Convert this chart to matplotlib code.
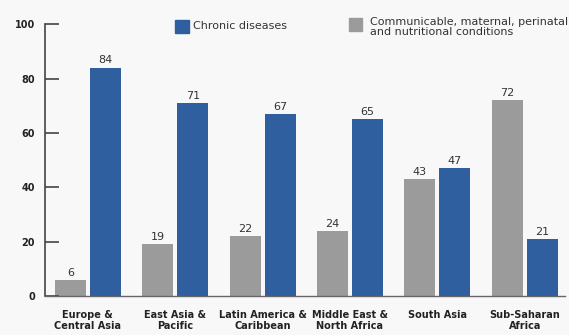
import matplotlib.pyplot as plt
import matplotlib.patches as mpatches
import numpy as np

categories = ['Europe &\nCentral Asia', 'East Asia &\nPacific', 'Latin America &\nCaribbean',
              'Middle East &\nNorth Africa', 'South Asia', 'Sub-Saharan\nAfrica']
communicable = [6, 19, 22, 24, 43, 72]
chronic = [84, 71, 67, 65, 47, 21]
yticks = [0, 20, 40, 60, 80, 100]
series_names = ['Chronic diseases', 'Communicable, maternal, perinatal\nand nutritional conditions']

blue = '#2f5f9f'
gray = '#9b9b9b'
bg = '#f8f8f8'

fig = plt.figure(figsize=(5.69, 3.35), dpi=100, facecolor=bg)
ax = fig.add_axes([0.079, 0.116, 0.914, 0.812], facecolor=bg)

x = np.arange(len(categories))
w = 0.355
off = 0.2
b1 = ax.bar(x - off, communicable, w, color=gray)
b2 = ax.bar(x + off, chronic, w, color=blue)

for rect, v in zip(list(b1) + list(b2), communicable + chronic):
    ax.text(rect.get_x() + rect.get_width() / 2, v + 0.8, str(v),
            ha='center', va='bottom', fontsize=8, color='#333333')

ax.set_xlim(-0.49, 5.46)
ax.set_ylim(0, 100)
ax.set_yticks(yticks)
ax.set_yticklabels([str(t) for t in yticks], fontsize=7, fontweight='bold', color='#222222')
ax.tick_params(axis='y', direction='in', length=10, width=1.2, color='#444444', pad=7)
ax.set_xticks(x)
ax.set_xticklabels(categories, fontsize=7, fontweight='bold', color='#222222', linespacing=1.15)
ax.tick_params(axis='x', length=0, pad=10)

for s in ['top', 'right']:
    ax.spines[s].set_visible(False)
ax.spines['left'].set_color('#444444')
ax.spines['left'].set_linewidth(1.2)
ax.spines['bottom'].set_color('#666666')
ax.spines['bottom'].set_linewidth(1.0)

# legend drawn by hand so the gray key lines up with the first text line
fig.add_artist(mpatches.Rectangle((0.3076, 0.9015), 0.0246, 0.0388, color=blue,
                                  transform=fig.transFigure))
fig.text(0.339, 0.922, series_names[0], fontsize=8, color='#333333', va='center', ha='left')
fig.add_artist(mpatches.Rectangle((0.6134, 0.9075), 0.0229, 0.0388, color=gray,
                                  transform=fig.transFigure))
fig.text(0.650, 0.949, series_names[1], fontsize=8, color='#333333', va='top', ha='left',
         linespacing=1.0)

fig.savefig('out.png', dpi=100, facecolor=bg)
